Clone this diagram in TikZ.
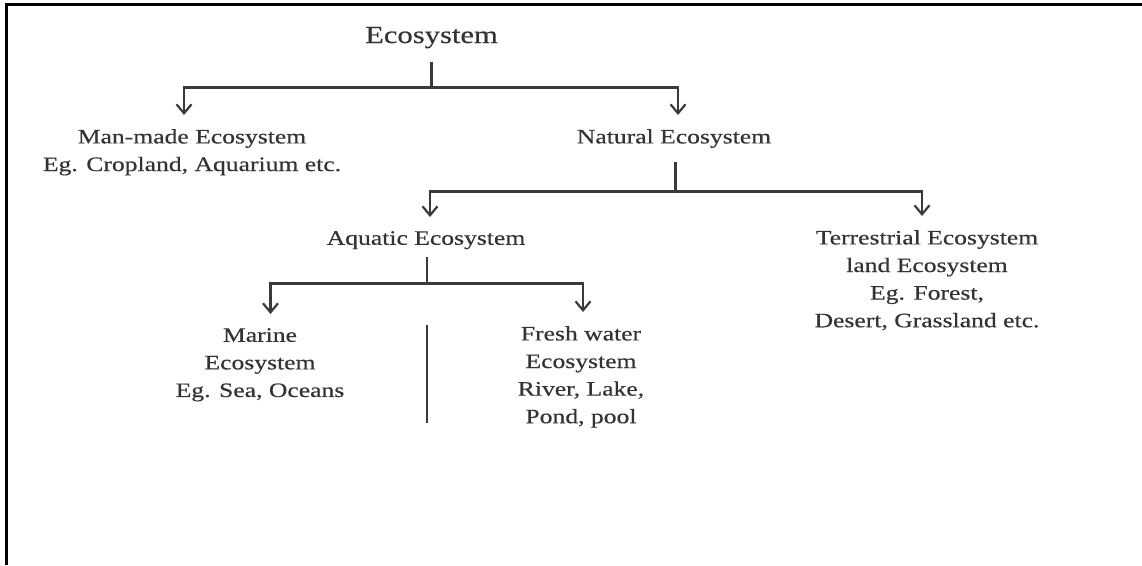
\documentclass[tikz,border=0pt]{standalone}
\usepackage{fontspec}
\setmainfont{Liberation Serif}[FakeStretch=1.25,FakeBold=0.4]
\usetikzlibrary{arrows.meta}
\definecolor{Ink}{HTML}{333333}
\definecolor{Wire}{HTML}{3A3A3A}

\begin{document}
\begin{tikzpicture}[x=1pt,y=-1pt,
  every node/.style={text=Ink,inner xsep=0pt,inner ysep=14pt},
  branch/.style={align=center,anchor=north,font=\fontsize{20.5}{27.6}\selectfont},
  link/.style={Wire,line width=2.2pt},
  arr/.style={link,-{Straight Barb[length=9pt,width=15pt]}}]
\useasboundingbox (0,0) rectangle (1142,565);
\draw[line width=3pt] (6.8,565) |- (1142,4);
% tree
\node[anchor=base,font=\fontsize{24.5}{28}\selectfont] (eco) at (431.5,43) {Ecosystem};
\node[branch] (man) at (192,115) {Man-made Ecosystem\\Eg. Cropland, Aquarium etc.};
\node[branch] (nat) at (674,115) {Natural Ecosystem};
\node[branch] (aq) at (426,217) {Aquatic Ecosystem};
\node[branch] (terr) at (927,216) {Terrestrial Ecosystem\\land Ecosystem\\Eg. Forest,\\Desert, Grassland etc.};
\node[branch] (marine) at (260,314) {Marine\\Ecosystem\\Eg. Sea, Oceans};
\node[branch] (fresh) at (581,312) {Fresh water\\Ecosystem\\River, Lake,\\Pond, pool};
\coordinate (j1) at (431.5,87.5);
\coordinate (j2) at (675.5,191.5);
\coordinate (j3) at (427,283.5);
\coordinate (gaptop) at (427,325);
\coordinate (gapbot) at (427,423);
% connectors
\draw[link] (eco) -- (j1);
\draw[arr] (j1) -| ([xshift=-8pt]man.north);
\draw[arr] (j1) -| ([xshift=4pt]nat.north);
\draw[link] (nat.south -| j2) -- (j2);
\draw[arr] (j2) -| ([xshift=4pt]aq.north);
\draw[arr] (j2) -| ([xshift=-5pt]terr.north);
\draw[link,shorten <=-6pt] (aq.south -| j3) -- (j3);
\draw[arr] (j3) -| ([xshift=10.5pt]marine.north);
\draw[arr] (j3) -| ([xshift=2pt]fresh.north);
\draw[link] (gaptop) -- (gapbot);
\end{tikzpicture}
\end{document}
